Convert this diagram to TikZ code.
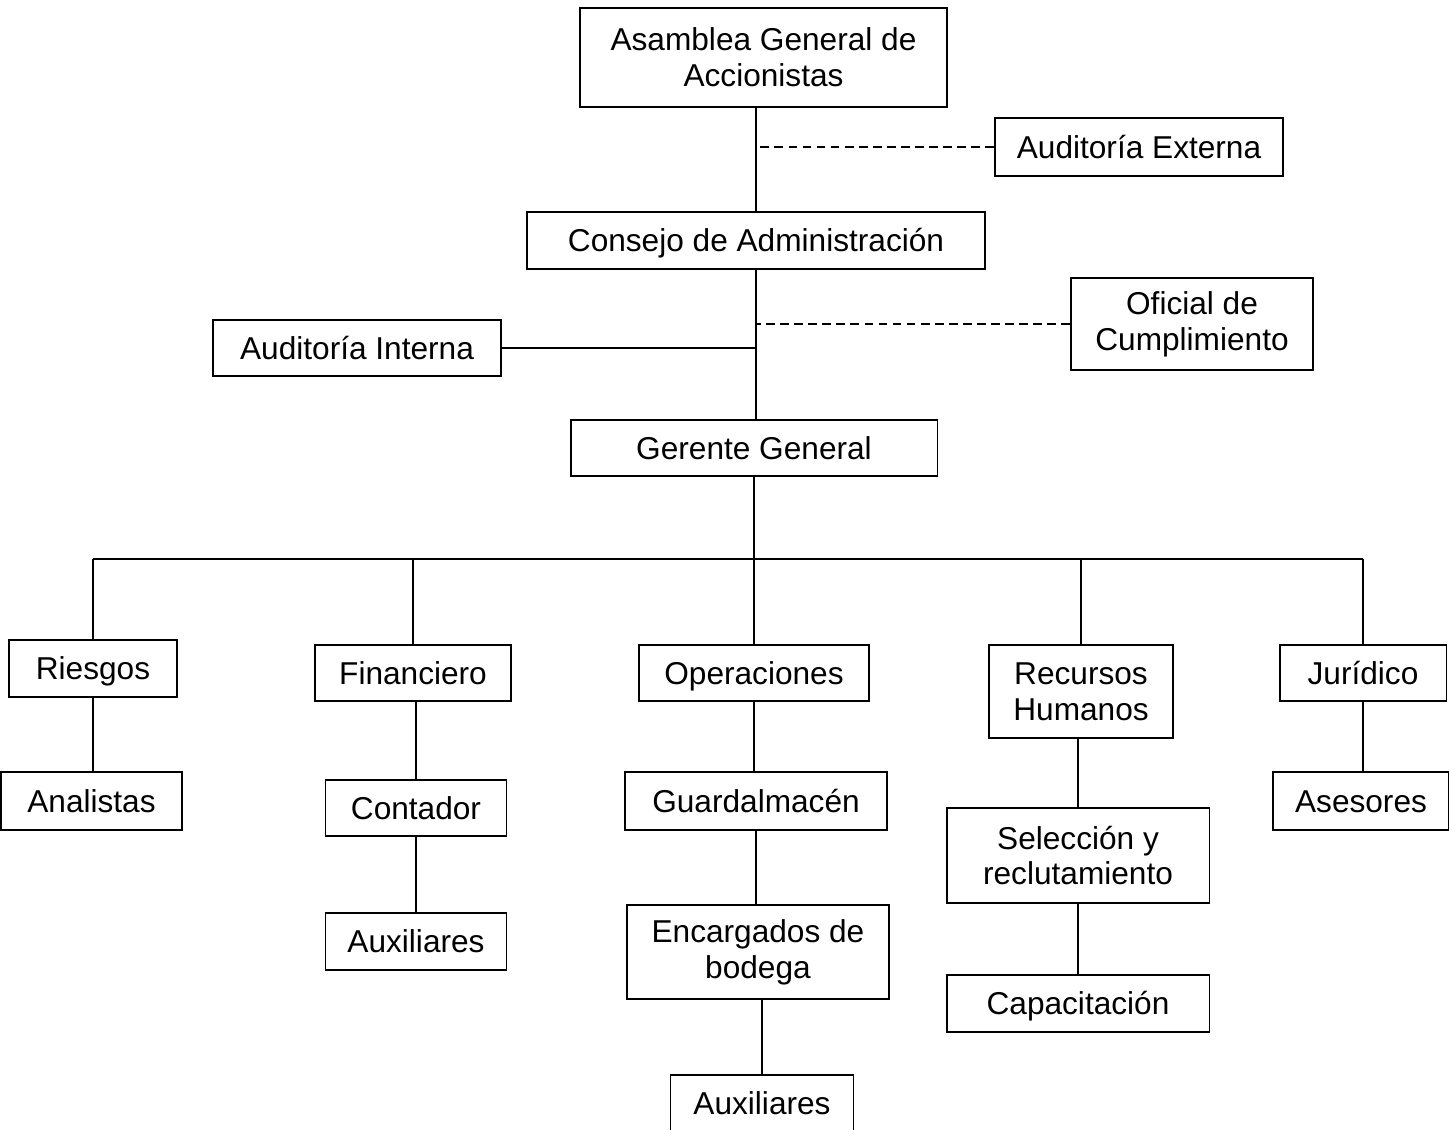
\documentclass[tikz,border=0pt]{standalone}
\usepackage{fontspec}
\setmainfont{Liberation Sans}
\usepackage{tikz}
\usetikzlibrary{positioning}

\begin{document}
\begin{tikzpicture}[x=0.02cm,y=-0.02cm,line width=1.1pt,
  	cargo/.style={draw,align=center,inner sep=0pt,font=\fontsize{18}{20.4}\selectfont},
  	uno/.style={cargo,text height=16.2pt,text depth=3.2pt},
  	asesoria/.style={dash pattern=on 5pt off 3pt}]
  		\useasboundingbox (0,0) rectangle (1449,1129);
  		% direccion
  		\node[cargo,minimum width=7.34cm,minimum height=1.98cm] (asamblea) at (763.5,57.5) {Asamblea General de\\Accionistas};
  		\node[uno,minimum width=5.76cm,minimum height=1.16cm] (externa) at (1139,147) {Auditoría Externa};
  		\node[uno,minimum width=9.16cm,minimum height=1.14cm] (consejo) at (756,240.5) {Consejo de Administración};
  		\node[cargo,minimum width=4.84cm,minimum height=1.84cm] (oficial) at (1192,324) {Oficial de\\Cumplimiento};
  		\node[uno,minimum width=5.76cm,minimum height=1.12cm] (interna) at (357,348) {Auditoría Interna};
  		\node[uno,minimum width=7.34cm,minimum height=1.12cm] (gerente) at (754,448) {Gerente General};
  		% areas
  		\node[uno,minimum width=3.36cm,minimum height=1.14cm] (riesgos) at (93,668.5) {Riesgos};
  		\node[uno,minimum width=3.92cm,minimum height=1.12cm] (financiero) at (413,673) {Financiero};
  		\node[uno,minimum width=4.6cm,minimum height=1.12cm] (operaciones) at (754,673) {Operaciones};
  		\node[cargo,minimum width=3.68cm,minimum height=1.86cm] (recursos) at (1081,691.5) {Recursos\\Humanos};
  		\node[uno,minimum width=3.34cm,minimum height=1.12cm] (juridico) at (1363,673) {Jurídico};
  		% personal
  		\node[uno,minimum width=3.62cm,minimum height=1.16cm] (analistas) at (91.5,801) {Analistas};
  		\node[uno,minimum width=3.62cm,minimum height=1.12cm] (contador) at (416,808) {Contador};
  		\node[uno,minimum width=3.62cm,minimum height=1.14cm] (auxfin) at (416,941.5) {Auxiliares};
  		\node[uno,minimum width=5.24cm,minimum height=1.16cm] (guardalmacen) at (756,801) {Guardalmacén};
  		\node[cargo,minimum width=5.24cm,minimum height=1.88cm] (encargados) at (758,952) {Encargados de\\bodega};
  		\node[uno,minimum width=3.66cm,minimum height=1.12cm] (auxop) at (762,1103) {Auxiliares};
  		\node[cargo,minimum width=5.26cm,minimum height=1.9cm] (seleccion) at (1078,855.5) {Selección y\\reclutamiento};
  		\node[uno,minimum width=5.26cm,minimum height=1.14cm] (capacitacion) at (1078,1003.5) {Capacitación};
  		\node[uno,minimum width=3.52cm,minimum height=1.16cm] (asesores) at (1361,801) {Asesores};
  		% lineas de mando
  		\draw (consejo.north) -- (consejo.north |- asamblea.south);
  		\draw[asesoria] (externa.west) -- (externa.west -| consejo.north);
  		\draw (consejo.south) -- (consejo.south |- gerente.north);
  		\draw (interna.east) -- (interna.east -| consejo.south);
  		\draw[asesoria] (oficial.west) -- (oficial.west -| consejo.south);
  		\coordinate (bus) at (754,559);
  		\draw (gerente.south) -- (bus);
  		\draw (riesgos.north |- bus) -- (juridico.north |- bus);
  		\foreach \area in {riesgos,financiero,operaciones,recursos,juridico}
  			\draw (\area.north) -- (\area.north |- bus);
  		\draw (riesgos.south) -- (riesgos.south |- analistas.north);
  		\draw (contador.north) -- (contador.north |- financiero.south);
  		\draw (contador.south) -- (auxfin.north);
  		\draw (operaciones.south) -- (operaciones.south |- guardalmacen.north);
  		\draw (guardalmacen.south) -- (guardalmacen.south |- encargados.north);
  		\draw (auxop.north) -- (auxop.north |- encargados.south);
  		\draw (seleccion.north) -- (seleccion.north |- recursos.south);
  		\draw (seleccion.south) -- (capacitacion.north);
  		\draw (juridico.south) -- (juridico.south |- asesores.north);
  	\end{tikzpicture}
\end{document}
